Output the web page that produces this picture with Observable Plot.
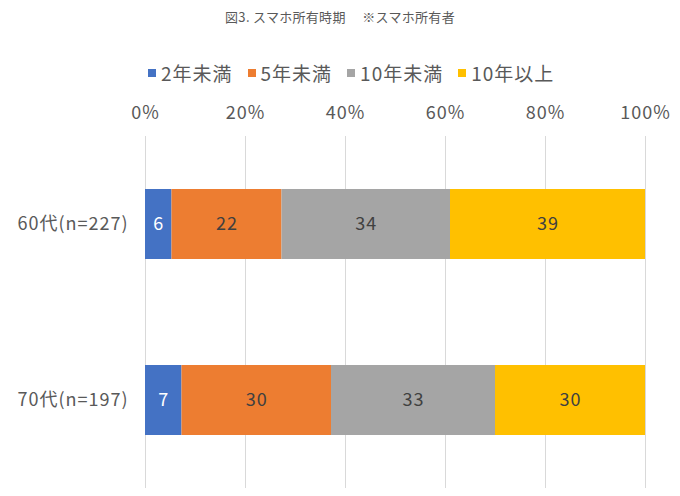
<!DOCTYPE html>
<html>
<head>
<meta charset="utf-8">
<script src="https://cdn.jsdelivr.net/npm/d3@7"></script>
<script src="https://cdn.jsdelivr.net/npm/@observablehq/plot@0.6"></script>
<style>
  html, body { margin: 0; padding: 0; background: #fff; }
  body { width: 680px; height: 496px; position: relative; overflow: hidden;
         font-family: "Noto Sans CJK JP", "Noto Sans", sans-serif; color: #595959; }
  #title { position: absolute; top: 8px; left: 0; width: 680px; text-align: center;
           font-size: 13px; line-height: 18px; white-space: pre; letter-spacing: 0.3px; }
  #legend { position: absolute; top: 61px; left: 148px; display: flex; align-items: center;
            font-size: 19px; line-height: 24px; letter-spacing: 1px; }
  .item { display: flex; align-items: center; margin-right: 15px; }
  .sw { width: 8px; height: 8px; margin-right: 5px; }
  #chart { position: absolute; top: 90px; left: 0; }
  #chart svg text { letter-spacing: 1px; }
</style>
</head>
<body>
<div id="title"></div>
<div id="legend"></div>
<div id="chart"></div>
<script>
const titleText = "図3. スマホ所有時期　 ※スマホ所有者";
const categories = ["60代(n=227)", "70代(n=197)"];
const series = ["2年未満", "5年未満", "10年未満", "10年以上"];
const colors = ["#4472C4", "#ED7D31", "#A5A5A5", "#FFC000"];
const values60 = [5.3, 22.0, 33.7, 39.0];
const values70 = [7.3, 29.9, 32.8, 30.0];
const labels60 = [6, 22, 34, 39];
const labels70 = [7, 30, 33, 30];
const xTicks = [0, 20, 40, 60, 80, 100];

document.getElementById("title").textContent = titleText;

const legend = document.getElementById("legend");
series.forEach((s, i) => {
  const item = document.createElement("div");
  item.className = "item";
  const sw = document.createElement("div");
  sw.className = "sw";
  sw.style.background = colors[i];
  const t = document.createElement("span");
  t.textContent = s;
  item.appendChild(sw);
  item.appendChild(t);
  legend.appendChild(item);
});

const data = [];
[[values60, labels60], [values70, labels70]].forEach(([vals, labs], ci) => {
  vals.forEach((v, si) => {
    data.push({category: categories[ci], series: series[si], value: v, label: labs[si]});
  });
});

const chart = Plot.plot({
  width: 680,
  height: 406,
  marginTop: 46,
  marginBottom: 8,
  marginLeft: 145,
  marginRight: 35,
  style: {fontFamily: '"Noto Sans CJK JP", "Noto Sans", sans-serif', background: "#fff"},
  x: {domain: [0, 100], label: null},
  y: {domain: categories, paddingInner: 0.6, paddingOuter: 0.3, label: null},
  color: {domain: series, range: colors},
  marks: [
    Plot.gridX(xTicks, {stroke: "#d9d9d9", strokeOpacity: 1, strokeWidth: 1}),
    Plot.axisX(xTicks, {anchor: "top", tickSize: 0, tickPadding: 18, tickFormat: d => d + "%",
      fontSize: 18, fill: "#595959", label: null}),
    Plot.axisY({anchor: "left", tickSize: 0, tickPadding: 17, fontSize: 18, fill: "#595959", label: null}),
    Plot.barX(data, Plot.stackX({x: "value", y: "category", fill: "series", order: series})),
    Plot.text(data, Plot.stackX({x: "value", y: "category", z: "series", order: series, text: "label",
      fontSize: 18, fill: d => d.series === series[0] ? "#ffffff" : "#404040"}))
  ]
});
document.getElementById("chart").appendChild(chart);
</script>
</body>
</html>
